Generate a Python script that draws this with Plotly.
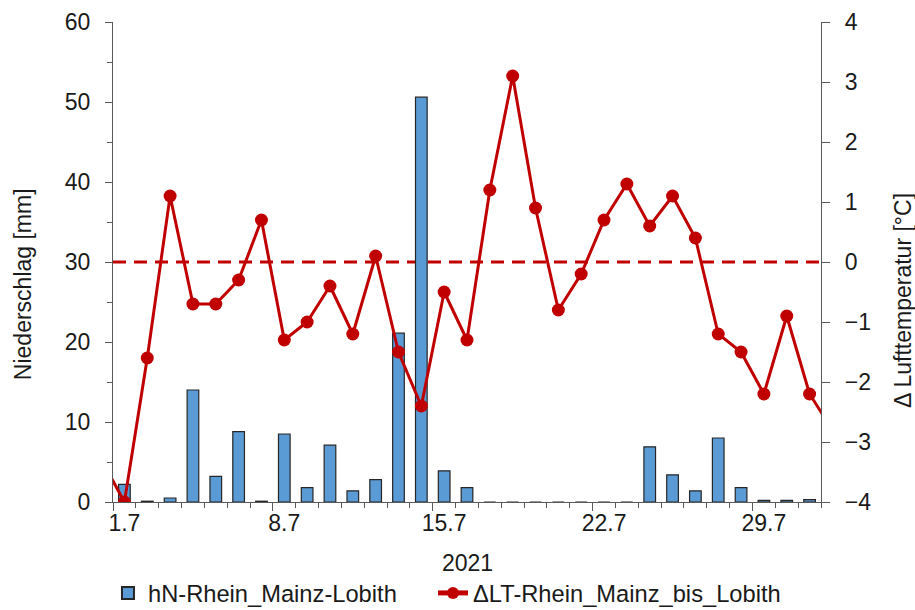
import plotly.graph_objects as go
import pandas as pd

# ---- data ----
bar_dates = pd.date_range("2021-07-01", "2021-07-31", freq="D")
niederschlag_mm = [2.2, 0.1, 0.5, 14.0, 3.2, 8.8, 0.1, 8.5, 1.8, 7.1,
                   1.4, 2.8, 21.1, 50.6, 3.9, 1.8, 0.0, 0.0, 0.0, 0.0,
                   0.0, 0.0, 0.0, 6.9, 3.4, 1.4, 8.0, 1.8, 0.2, 0.2, 0.3]

line_dates = pd.date_range("2021-06-30", "2021-08-01", freq="D")
delta_lt = [-3.3, -4.0, -1.6, 1.1, -0.7, -0.7, -0.3, 0.7, -1.3, -1.0,
            -0.4, -1.2, 0.1, -1.5, -2.4, -0.5, -1.3, 1.2, 3.1, 0.9,
            -0.8, -0.2, 0.7, 1.3, 0.6, 1.1, 0.4, -1.2, -1.5, -2.2,
            -0.9, -2.2, -2.8]

tick_dates = ["2021-07-01", "2021-07-08", "2021-07-15", "2021-07-22", "2021-07-29"]
tick_labels = ["1.7", "8.7", "15.7", "22.7", "29.7"]

name_bar = "hN-Rhein_Mainz-Lobith"
name_line = "ΔLT-Rhein_Mainz_bis_Lobith"
y1_title = "Niederschlag [mm]"
y2_title = "Δ Lufttemperatur [°C]"
x_title = "2021"

# ---- styling ----
FONT = "Liberation Sans, Arial, sans-serif"
FS = 23
LFS = 23.7
RED = "#c00000"
BLUE = "#5b9bd5"
AXC = "#595959"
TXT = "#1a1a1a"

x_range = [pd.Timestamp("2021-06-30 12:00"), pd.Timestamp("2021-07-31 12:00")]
boundaries = pd.date_range("2021-06-30 12:00", "2021-07-31 12:00", freq="D")
major_bounds = [b for i, b in enumerate(boundaries) if i % 7 == 0]

fig = go.Figure()
fig.add_trace(go.Bar(
    x=bar_dates, y=niederschlag_mm, name=name_bar,
    marker=dict(color=BLUE, line=dict(color="#262626", width=1.2)),
    xaxis="x", yaxis="y", legend="legend",
))
fig.add_trace(go.Scatter(
    x=line_dates, y=delta_lt, name=name_line, mode="lines+markers",
    line=dict(color=RED, width=3),
    marker=dict(color=RED, size=13),
    xaxis="x2", yaxis="y2", legend="legend2",
))

fig.add_shape(type="line", xref="paper", x0=0, x1=1, yref="y2", y0=0, y1=0,
              line=dict(color=RED, width=3, dash="13px,8px"), layer="below")

leg_common = dict(orientation="h", xref="container", yref="container",
                  xanchor="left", y=0.0, yanchor="bottom",
                  font=dict(size=LFS, color=TXT), bgcolor="rgba(0,0,0,0)",
                  itemsizing="constant")

fig.update_layout(
    width=915, height=615,
    margin=dict(l=113, r=94, t=22, b=113, autoexpand=False),
    paper_bgcolor="white", plot_bgcolor="white",
    font=dict(family=FONT, size=FS, color=TXT),
    bargap=0.49,
    hovermode=False,
    showlegend=True,
    legend=dict(x=0.118, **leg_common),
    legend2=dict(x=0.4732, **leg_common),
    xaxis=dict(
        range=x_range, type="date", automargin=False,
        tickmode="array", tickvals=tick_dates, ticktext=tick_labels,
        ticks="", showline=True, linecolor=AXC, linewidth=1.3,
        showgrid=False, zeroline=False,
        tickfont=dict(size=FS, color=TXT),
        minor=dict(tickmode="array", tickvals=list(boundaries), ticks="outside",
                   ticklen=5, tickcolor=AXC, tickwidth=1.3, showgrid=False),
    ),
    xaxis2=dict(
        range=x_range, type="date", overlaying="x", side="bottom", anchor="y",
        automargin=False,
        tickmode="array", tickvals=major_bounds, ticks="outside", ticklen=8,
        tickcolor=AXC, tickwidth=1.3, showticklabels=False,
        showline=False, showgrid=False, zeroline=False,
    ),
    yaxis=dict(
        range=[0, 60], dtick=10, ticks="outside", ticklen=7, tickcolor=AXC,
        automargin=False,
        tickwidth=1.3, showline=True, linecolor=AXC, linewidth=1.3,
        showgrid=False, zeroline=False, ticklabelstandoff=10,
        tickfont=dict(size=FS, color=TXT),
        minor=dict(dtick=5, ticks="outside", ticklen=5, tickcolor=AXC,
                   tickwidth=1.3, showgrid=False),
    ),
    yaxis2=dict(
        range=[-4, 4], dtick=1, overlaying="y", side="right", anchor="x",
        automargin=False,
        ticks="outside", ticklen=8, tickcolor=AXC, tickwidth=1.3,
        showline=True, linecolor=AXC, linewidth=1.3,
        showgrid=False, zeroline=False, ticklabelstandoff=10,
        tickfont=dict(size=FS, color=TXT),
    ),
    annotations=[
        dict(text=y1_title, xref="paper", yref="paper", x=-0.127, y=0.454,
             textangle=-90, showarrow=False, xanchor="center", yanchor="middle",
             font=dict(size=FS, color=TXT)),
        dict(text=y2_title, xref="paper", yref="paper", x=1.116, y=0.419,
             textangle=-90, showarrow=False, xanchor="center", yanchor="middle",
             font=dict(size=FS, color=TXT)),
        dict(text=x_title, xref="paper", yref="paper", x=0.501, y=-0.127,
             showarrow=False, xanchor="center", yanchor="middle",
             font=dict(size=FS, color=TXT)),
    ],
)

fig.write_html(
    "out.html",
    config={"displayModeBar": False},
    post_script="document.body.style.margin='0';document.body.style.overflow='hidden';",
)
